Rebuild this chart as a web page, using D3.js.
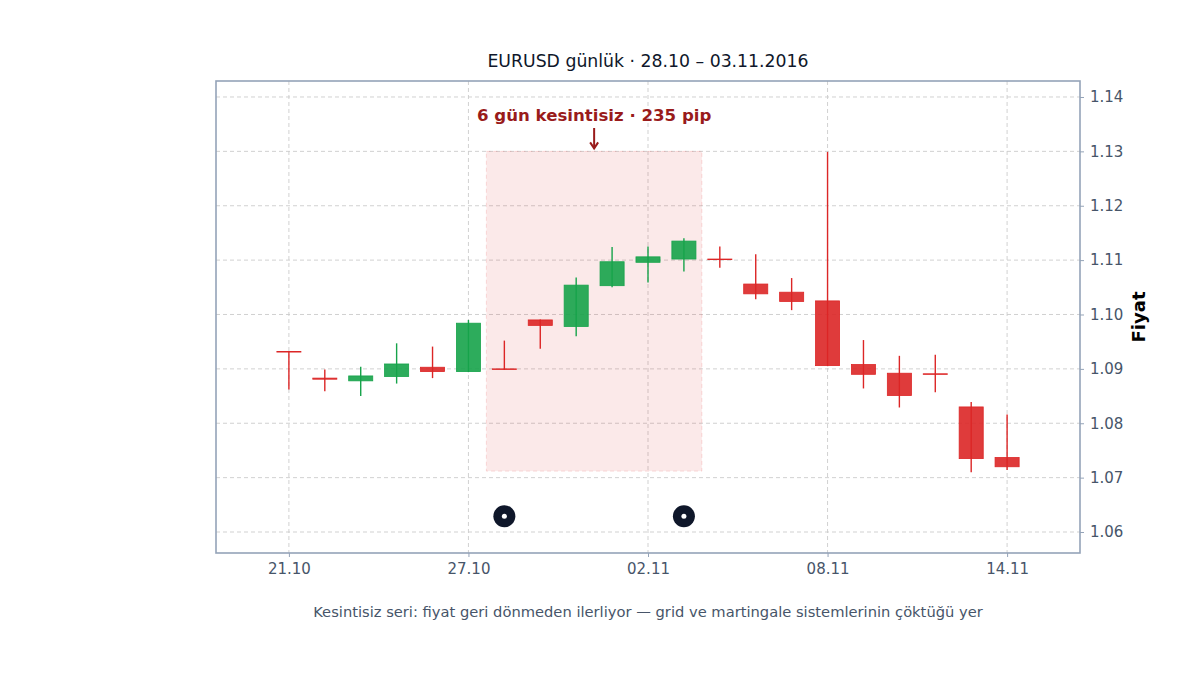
<!DOCTYPE html>
<html>
<head>
<meta charset="utf-8">
<script src="https://cdn.jsdelivr.net/npm/d3@7"></script>
<style>
  body { margin: 0; background: #fff; }
  text { font-family: "DejaVu Sans", sans-serif; }
</style>
</head>
<body>
<div id="chart"></div>
<script>
// candle data (index = trading day)
var opens  = [1.0932, 1.0883, 1.0878, 1.0886, 1.0903, 1.0895, 1.0900, 1.0990, 1.0978, 1.1053, 1.1096, 1.1102, 1.1102, 1.1056, 1.1041, 1.1025, 1.0908, 1.0892, 1.0891, 1.0830, 1.0737];
var highs  = [1.0933, 1.0899, 1.0904, 1.0947, 1.0941, 1.0990, 1.0952, 1.0991, 1.1068, 1.1124, 1.1125, 1.1140, 1.1125, 1.1111, 1.1067, 1.1299, 1.0953, 1.0924, 1.0926, 1.0839, 1.0816];
var lows   = [1.0862, 1.0859, 1.0850, 1.0873, 1.0883, 1.0894, 1.0898, 1.0937, 1.0960, 1.1050, 1.1059, 1.1079, 1.1086, 1.1028, 1.1008, 1.0905, 1.0864, 1.0829, 1.0857, 1.0710, 1.0714];
var closes = [1.0931, 1.0881, 1.0887, 1.0909, 1.0895, 1.0984, 1.0899, 1.0980, 1.1054, 1.1097, 1.1106, 1.1135, 1.1101, 1.1038, 1.1024, 1.0906, 1.0890, 1.0851, 1.0890, 1.0735, 1.0720];

var xTickIdx = [0, 5, 10, 15, 20];
var xTickLabels = ['21.10', '27.10', '02.11', '08.11', '14.11'];
var yTicks = [1.06, 1.07, 1.08, 1.09, 1.10, 1.11, 1.12, 1.13, 1.14];

// streak zone
var streakStart = 6, streakEnd = 11;
var streakLow = 1.0712, streakHigh = 1.1300;
var markerIdx = [6, 11];
var markerVal = 1.0629;

var W = 1200, H = 675;
var plot = { x0: 216, x1: 1080, y0: 81, y1: 553 };

var green = '#16a34a', red = '#dc2626';

var svg = d3.select('#chart').append('svg')
    .attr('width', W)
    .attr('height', H);

var x = d3.scaleLinear().domain([-2.03, 22.03]).range([plot.x0, plot.x1]);
var y = d3.scaleLinear().domain([1.05614, 1.14294]).range([plot.y1, plot.y0]);

var step = x(1) - x(0);
var bodyW = step * 0.67;

// grid
var grid = svg.append('g');
grid.selectAll('line.gy')
    .data(yTicks)
    .enter().append('line')
    .attr('x1', plot.x0).attr('x2', plot.x1)
    .attr('y1', d => y(d)).attr('y2', d => y(d))
    .attr('stroke', '#cccccc').attr('stroke-width', 0.9)
    .attr('stroke-dasharray', '4,3');
grid.selectAll('line.gx')
    .data(xTickIdx)
    .enter().append('line')
    .attr('x1', d => x(d)).attr('x2', d => x(d))
    .attr('y1', plot.y0).attr('y2', plot.y1)
    .attr('stroke', '#cccccc').attr('stroke-width', 0.9)
    .attr('stroke-dasharray', '4,3');

// shaded streak
svg.append('rect')
    .attr('x', x(streakStart - 0.5))
    .attr('y', y(streakHigh))
    .attr('width', x(streakEnd + 0.5) - x(streakStart - 0.5))
    .attr('height', y(streakLow) - y(streakHigh))
    .attr('fill', red).attr('fill-opacity', 0.1)
    .attr('stroke', red).attr('stroke-opacity', 0.15)
    .attr('stroke-dasharray', '4,3');

// candles
var candles = svg.append('g')
    .selectAll('g')
    .data(opens)
    .enter()
    .append('g');

candles.append('line')
    .attr('x1', (d, i) => x(i)).attr('x2', (d, i) => x(i))
    .attr('y1', (d, i) => y(highs[i]))
    .attr('y2', (d, i) => y(lows[i]))
    .attr('stroke', (d, i) => closes[i] >= opens[i] ? green : red)
    .attr('stroke-width', 1.4);

candles.append('rect')
    .attr('x', (d, i) => x(i) - bodyW / 2)
    .attr('y', (d, i) => y(Math.max(opens[i], closes[i])))
    .attr('width', bodyW)
    .attr('height', (d, i) => Math.max(0.6, Math.abs(y(opens[i]) - y(closes[i]))))
    .attr('fill', (d, i) => closes[i] >= opens[i] ? green : red)
    .attr('fill-opacity', 0.9)
    .attr('stroke', (d, i) => closes[i] >= opens[i] ? green : red)
    .attr('stroke-width', 0.8);

// markers
var mk = svg.append('g').selectAll('g')
    .data(markerIdx)
    .enter().append('g')
    .attr('transform', d => `translate(${x(d)},${y(markerVal)})`);
mk.append('circle').attr('r', 11).attr('fill', '#0f172a');
mk.append('circle').attr('r', 2.5).attr('fill', '#ffffff');

// annotation
var midX = x((streakStart + streakEnd) / 2);
svg.append('text')
    .attr('x', midX).attr('y', 121)
    .attr('text-anchor', 'middle')
    .style('font-size', '16.6px').style('font-weight', 'bold')
    .attr('fill', '#991b1b')
    .text('6 gün kesintisiz · 235 pip');

svg.append('line')
    .attr('x1', midX).attr('x2', midX)
    .attr('y1', 128).attr('y2', y(streakHigh) - 3)
    .attr('stroke', '#991b1b').attr('stroke-width', 2);
svg.append('path')
    .attr('d', `M${midX - 4},${y(streakHigh) - 9} L${midX},${y(streakHigh) - 3} L${midX + 4},${y(streakHigh) - 9}`)
    .attr('fill', 'none')
    .attr('stroke', '#991b1b').attr('stroke-width', 2);

// frame
svg.append('rect')
    .attr('x', plot.x0).attr('y', plot.y0)
    .attr('width', plot.x1 - plot.x0).attr('height', plot.y1 - plot.y0)
    .attr('fill', 'none')
    .attr('stroke', '#94a3b8').attr('stroke-width', 1.6);

// axes
var xAxis = svg.append('g')
    .attr('transform', `translate(0,${plot.y1})`)
    .call(d3.axisBottom(x).tickValues(xTickIdx)
        .tickFormat((d, i) => xTickLabels[i]).tickSize(4).tickPadding(6));
var yAxis = svg.append('g')
    .attr('transform', `translate(${plot.x1},0)`)
    .call(d3.axisRight(y).tickValues(yTicks)
        .tickFormat(d3.format('.2f')).tickSize(4).tickPadding(6));

[xAxis, yAxis].forEach(function (a) {
    a.select('.domain').remove();
    a.selectAll('.tick line').attr('stroke', '#94a3b8');
    a.selectAll('.tick text')
        .attr('fill', '#475569')
        .style('font-size', '15px')
        .style('font-family', '"DejaVu Sans", sans-serif');
});

svg.append('text')
    .attr('transform', `translate(1145,${(plot.y0 + plot.y1) / 2}) rotate(-90)`)
    .attr('text-anchor', 'middle')
    .style('font-size', '18px').style('font-weight', 'bold')
    .attr('fill', '#000')
    .text('Fiyat');

// title + caption
svg.append('text')
    .attr('x', (plot.x0 + plot.x1) / 2).attr('y', 67)
    .attr('text-anchor', 'middle')
    .style('font-size', '17.3px')
    .attr('fill', '#0f172a')
    .text('EURUSD günlük · 28.10 – 03.11.2016');

svg.append('text')
    .attr('x', (plot.x0 + plot.x1) / 2).attr('y', 617)
    .attr('text-anchor', 'middle')
    .style('font-size', '14.7px')
    .attr('fill', '#475569')
    .text('Kesintisiz seri: fiyat geri dönmeden ilerliyor — grid ve martingale sistemlerinin çöktüğü yer');
</script>
</body>
</html>
